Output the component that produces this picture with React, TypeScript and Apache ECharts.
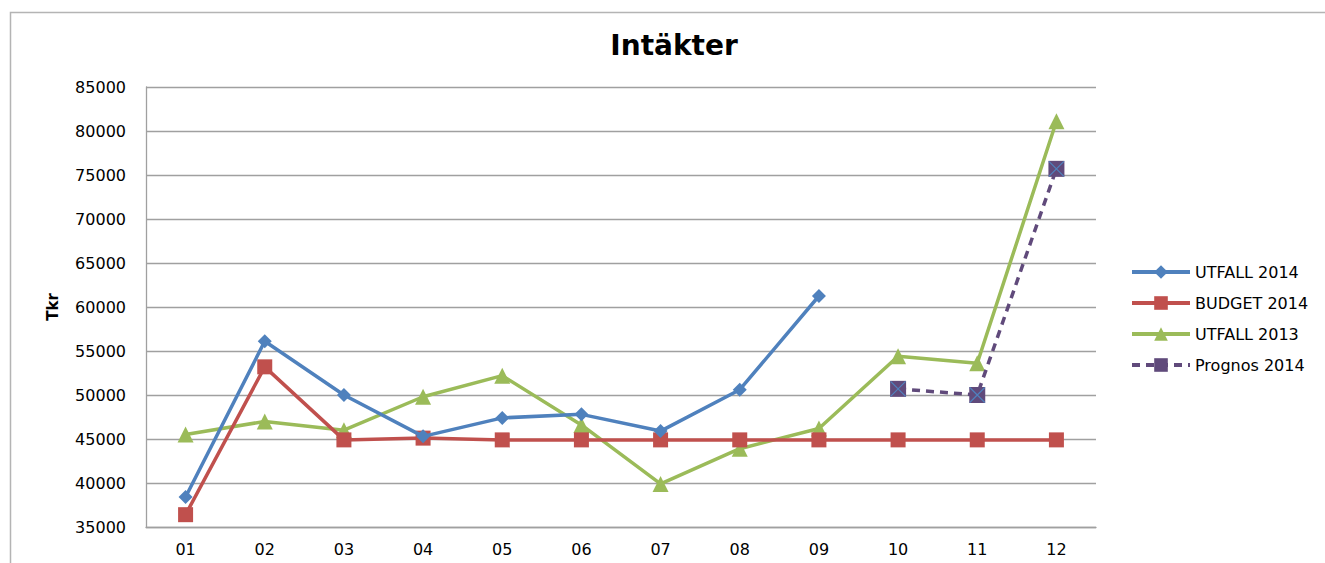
import React, { useEffect, useRef } from "react";
import * as echarts from "echarts";

const categories = ["01", "02", "03", "04", "05", "06", "07", "08", "09", "10", "11", "12"];
const utfall2014 = [38400, 56100, 50000, 45300, 47400, 47800, 45900, 50600, 61250, null, null, null];
const budget2014 = [36400, 53200, 44900, 45100, 44900, 44900, 44900, 44900, 44900, 44900, 44900, 44900];
const utfall2013 = [45500, 47000, 46000, 49800, 52200, 46600, 39900, 43900, 46200, 54400, 53600, 81100];
const prognos2014 = [null, null, null, null, null, null, null, null, null, 50700, 50000, 75700];
const seriesNames = ["UTFALL 2014", "BUDGET 2014", "UTFALL 2013", "Prognos 2014"];
const yMin = 35000;
const yMax = 85000;
const yStep = 5000;

const FONT = "DejaVu Sans";

export default function App() {
  const ref = useRef<HTMLDivElement>(null);
  useEffect(() => {
    if (!ref.current) return;
    const chart = echarts.init(ref.current, null, { renderer: "svg" });
    chart.setOption({
      animation: false,
      backgroundColor: "#ffffff",
      textStyle: { fontFamily: FONT },
      title: {
        text: "Intäkter",
        left: 669,
        textAlign: "center",
        top: 26,
        textStyle: { fontFamily: FONT, fontSize: 28, fontWeight: "bold", color: "#000" },
      },
      graphic: [
        {
          type: "rect",
          shape: { x: 10.5, y: 12.5, width: 1400, height: 700 },
          style: { fill: "none", stroke: "#b4b4b4", lineWidth: 1.5 },
          silent: true,
          z: -1,
        },
      ],
      legend: {
        orient: "vertical",
        left: 1125,
        top: 259,
        itemWidth: 58,
        itemHeight: 17,
        itemGap: 15,
        data: seriesNames,
        lineStyle: { width: 4 },
        textStyle: { fontFamily: FONT, fontSize: 16, color: "#000" },
      },
      grid: { left: 146, top: 87, width: 950, height: 440, containLabel: false },
      xAxis: {
        type: "category",
        data: categories,
        boundaryGap: true,
        axisLine: { lineStyle: { color: "#a0a0a0", width: 1.3 } },
        axisTick: { show: false },
        axisLabel: { fontFamily: FONT, fontSize: 16, color: "#000", margin: 14 },
      },
      yAxis: {
        type: "value",
        min: yMin,
        max: yMax,
        interval: yStep,
        name: "Tkr",
        nameLocation: "middle",
        nameGap: 86,
        nameRotate: 90,
        nameTextStyle: { fontFamily: FONT, fontSize: 15, fontWeight: "bold", color: "#000" },
        axisLine: { show: true, lineStyle: { color: "#a0a0a0", width: 1.3 } },
        axisTick: { show: false },
        axisLabel: {
          fontFamily: FONT,
          fontSize: 16,
          color: "#000",
          margin: 20,
          formatter: (v: number) => String(v),
        },
        splitLine: { lineStyle: { color: "#a0a0a0", width: 1.3 } },
      },
      series: [
        {
          name: "UTFALL 2014",
          type: "line",
          data: utfall2014,
          color: "#4F81BD",
          lineStyle: { width: 3.5 },
          symbol: "diamond",
          symbolSize: 14,
          itemStyle: { color: "#4F81BD" },
          z: 4,
        },
        {
          name: "BUDGET 2014",
          type: "line",
          data: budget2014,
          color: "#C0504D",
          lineStyle: { width: 3.5 },
          symbol: "rect",
          symbolSize: 15,
          itemStyle: { color: "#C0504D" },
          z: 3,
        },
        {
          name: "UTFALL 2013",
          type: "line",
          data: utfall2013,
          color: "#9BBB59",
          lineStyle: { width: 3.5 },
          symbol: "triangle",
          symbolSize: 16,
          itemStyle: { color: "#9BBB59" },
          z: 2,
        },
        {
          name: "Prognos 2014",
          type: "line",
          data: prognos2014,
          color: "#604A7B",
          lineStyle: { width: 3.5, type: [8, 6] },
          symbol: "rect",
          symbolSize: 16,
          itemStyle: { color: "#604A7B" },
          z: 5,
        },
        {
          name: "Prognos 2014 kryss",
          type: "line",
          data: prognos2014,
          lineStyle: { width: 0, opacity: 0 },
          symbol: "path://M0 0 L10 10 M10 0 L0 10",
          symbolSize: 15,
          itemStyle: { color: "none", borderColor: "#4F81BD", borderWidth: 1.2 },
          tooltip: { show: false },
          z: 6,
        },
      ],
    });
    return () => chart.dispose();
  }, []);
  return (
    <div
      ref={ref}
      style={{ position: "absolute", left: 0, top: 0, width: 1325, height: 563 }}
    />
  );
}
